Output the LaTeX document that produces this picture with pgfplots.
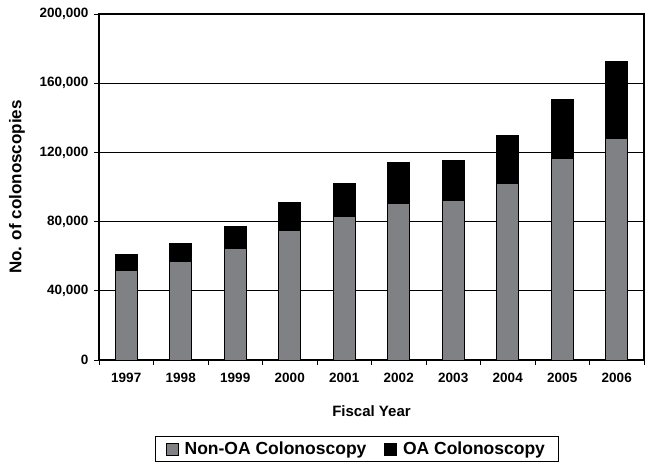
\documentclass[border=0pt]{standalone}
\usepackage{pgfplots}
\pgfplotsset{compat=1.18}
\usepackage{fontspec}
\setmainfont{Liberation Sans}
\definecolor{bargray}{RGB}{128,129,132}
\begin{document}
\begin{tikzpicture}[x=1pt,y=1pt]
\path[use as bounding box] (0,0) rectangle (657,470);
\begin{axis}[
  at={(99pt,110pt)}, anchor=south west,
  scale only axis, width=545pt, height=346pt,
  xmin=-0.5, xmax=9.5, ymin=0, ymax=200000,
  ybar stacked, bar width=22pt,
  xtick={0,...,9},
  xticklabels={1997,1998,1999,2000,2001,2002,2003,2004,2005,2006},
  minor xtick={-0.5,0.5,...,9.5},
  major x tick style={draw=none},
  minor tick length=5pt,
  ytick={0,40000,...,200000},
  yticklabels={0,{40,000},{80,000},{120,000},{160,000},{200,000}},
  scaled y ticks=false,
  tick align=outside, tick pos=lower,
  major tick length=5pt,
  ymajorgrids, grid style={black, line width=0.9pt},
  axis line style={black, line width=1.1pt},
  tick style={black, line width=0.9pt},
  ticklabel style={font=\fontsize{13.5}{15}\selectfont\bfseries},
  /pgf/number format/assume math mode=true,
  xticklabel style={yshift=-5pt},
  yticklabel style={xshift=-2pt},
  xlabel={Fiscal Year},
  ylabel={No. of colonoscopies},
  xlabel style={font=\fontsize{15}{17}\selectfont\bfseries, yshift=-16pt},
  ylabel style={font=\fontsize{17}{19}\selectfont\bfseries, yshift=8pt},
  legend columns=2,
  legend style={at={(0.4725,-0.257)}, anchor=center, draw=black, line width=0.9pt,
    font=\fontsize{17.5}{19}\selectfont\bfseries, inner xsep=11pt, inner ysep=3pt,
    /tikz/every odd column/.append style={column sep=4pt},
    /tikz/every even column/.append style={column sep=16pt}},
  legend image code/.code={\draw[#1, line width=0.6pt] (0pt,-6pt) rectangle (12pt,6pt);},
]
\addplot[fill=bargray, draw=black, line width=0.9pt] coordinates {
(0,51600) (1,57000) (2,64300) (3,74900) (4,82800) (5,90700) (6,92200) (7,101800) (8,116700) (9,127800)};
\addplot[fill=black, draw=black, line width=0.9pt] coordinates {
(0,9200) (1,10400) (2,12900) (3,16200) (4,19400) (5,23700) (6,23100) (7,28000) (8,33900) (9,44900)};
\legend{Non-OA Colonoscopy, OA Colonoscopy}
\end{axis}
\end{tikzpicture}
\end{document}
